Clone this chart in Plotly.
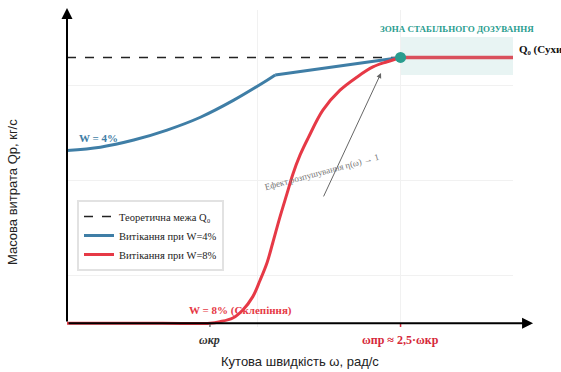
import plotly.graph_objects as go

# Characteristic angular speeds and theoretical flow limit (model units)
OMEGA_CR = 3.0
OMEGA_PR = 7.0
Q_T = 2.8
X_MAX = 9.36
Y_MIN = -0.04
Y_MAX = 3.3

# Outflow at W = 4 %: smooth rise, then a linear approach to Q_T
w4_x = [0.0, 0.7, 1.4, 2.1, 2.8, 3.5, 4.2, 4.37]
w4_y = [1.82, 1.855, 1.93, 2.035, 2.17, 2.35, 2.56, 2.615]
w4_tail_x = [4.37, 7.0]
w4_tail_y = [2.615, 2.8]

# Outflow at W = 8 %: arching (zero flow) below omega_cr, then steep rise
w8_x = [0.0, 2.0, 3.0, 3.21, 3.48, 3.69, 3.90, 4.05, 4.20, 4.32, 4.47, 4.62,
        4.74, 4.89, 5.06, 5.37, 5.73, 6.09, 6.42, 6.72, 7.0]
w8_y = [0.0, 0.0, 0.0, 0.016, 0.055, 0.14, 0.28, 0.45, 0.64, 0.85, 1.12, 1.37,
        1.57, 1.77, 1.95, 2.245, 2.455, 2.595, 2.70, 2.755, 2.8]

# Stable dosing zone
zone_x = [7.0, X_MAX]
zone_y = [2.615, 3.015]

BLUE = "#3f7ea6"
RED = "#e63946"
TEAL = "#2a9d8f"
SERIF = "Liberation Serif, Times New Roman, serif"
SANS = "Liberation Sans, Arial, sans-serif"

PLOT_W = 446  # plot area width in px
PLOT_H = 317  # plot area height in px
PX_X = PLOT_W / X_MAX
PX_Y = PLOT_H / (Y_MAX - Y_MIN)

fig = go.Figure()

fig.add_shape(type="rect", x0=zone_x[0], x1=zone_x[1], y0=zone_y[0], y1=zone_y[1],
              fillcolor="rgba(42,157,143,0.11)", line_width=0, layer="below")

fig.add_trace(go.Scatter(x=[0.0, OMEGA_PR], y=[Q_T, Q_T], mode="lines",
                         line=dict(color="#222222", width=1.6, dash="dash"),
                         name="Теоретична межа Q₀"))
fig.add_trace(go.Scatter(x=w4_x, y=w4_y, mode="lines",
                         line=dict(color=BLUE, width=3, shape="spline", smoothing=1.0),
                         legendgroup="w4", name="Витікання при W=4%"))
fig.add_trace(go.Scatter(x=w4_tail_x, y=w4_tail_y, mode="lines",
                         line=dict(color=BLUE, width=3), legendgroup="w4",
                         showlegend=False))
fig.add_trace(go.Scatter(x=w8_x, y=w8_y, mode="lines",
                         line=dict(color=RED, width=3, shape="spline", smoothing=1.0),
                         legendgroup="w8", name="Витікання при W=8%"))
fig.add_trace(go.Scatter(x=[OMEGA_PR, X_MAX], y=[Q_T, Q_T], mode="lines",
                         line=dict(color="#d9505c", width=3.5), legendgroup="w8",
                         showlegend=False))
fig.add_trace(go.Scatter(x=[OMEGA_PR], y=[Q_T], mode="markers",
                         marker=dict(color=TEAL, size=11), showlegend=False))

ann = []
# Axis arrows
ann.append(dict(xref="paper", yref="y", x=1.045, y=0, ax=-466, ay=0,
                showarrow=True, arrowhead=2, arrowsize=1.1, arrowwidth=2,
                arrowcolor="black", text=""))
ann.append(dict(xref="paper", yref="paper", x=0, y=1.006, ax=0, ay=315,
                showarrow=True, arrowhead=2, arrowsize=1.1, arrowwidth=2,
                arrowcolor="black", text=""))
# Axis titles
ann.append(dict(xref="paper", yref="paper", x=(300 - 67) / PLOT_W, y=-34 / PLOT_H,
                yanchor="middle", showarrow=False, text="Кутова швидкість ω, рад/с",
                font=dict(family=SANS, size=13, color="#222")))
ann.append(dict(xref="paper", yref="paper", x=-55 / PLOT_W, y=(327 - 192) / PLOT_H,
                xanchor="center", textangle=-90, showarrow=False,
                text="Масова витрата Qp, кг/с",
                font=dict(family=SANS, size=13, color="#222")))
# Characteristic speed labels
ann.append(dict(xref="x", yref="paper", x=OMEGA_CR, y=-13 / PLOT_H, yanchor="middle",
                showarrow=False, text="<b><i>ωкр</i></b>",
                font=dict(family=SERIF, size=12, color="#333")))
ann.append(dict(xref="x", yref="paper", x=OMEGA_PR, y=-13 / PLOT_H, yanchor="middle",
                showarrow=False, text="<b>ωпр ≈ 2,5·ωкр</b>",
                font=dict(family=SERIF, size=12, color="#d62839")))
# Series labels
ann.append(dict(xref="x", yref="y", x=0.2, y=(323 - 138) / PX_Y, xanchor="left",
                showarrow=False, text="<b>W = 4%</b>",
                font=dict(family=SERIF, size=11, color=BLUE)))
ann.append(dict(xref="x", yref="y", x=(240 - 67) / PX_X, y=(323 - 310) / PX_Y,
                showarrow=False, text="<b>W = 8% (Склепіння)</b>",
                font=dict(family=SERIF, size=11, color=RED)))
# Zone labels
ann.append(dict(xref="x", yref="y", x=(zone_x[0] + zone_x[1]) / 2, y=3.1,
                showarrow=False, text="<b>ЗОНА СТАБІЛЬНОГО ДОЗУВАННЯ</b>",
                font=dict(family=SERIF, size=9, color=TEAL)))
ann.append(dict(xref="paper", yref="y", x=1.0 + 4 / PLOT_W, y=2.88, xanchor="left",
                showarrow=False, text="<b>Q₀ (Сухий)</b>",
                font=dict(family=SERIF, size=11, color="#111")))
# Loosening effect arrow and label
ann.append(dict(xref="x", yref="y", x=6.59, y=2.635, axref="x", ayref="y",
                ax=5.37, ay=1.32, showarrow=True, arrowhead=2, arrowsize=1,
                arrowwidth=1, arrowcolor="#666", text=""))
ann.append(dict(xref="x", yref="y", x=(322 - 67) / PX_X, y=(323 - 172) / PX_Y,
                showarrow=False, textangle=-15, text="Ефект розпушування η(ω) → 1",
                font=dict(family=SERIF, size=9, color="#777")))

# Short tick marks under the characteristic speeds
fig.add_shape(type="line", xref="x", yref="y", x0=OMEGA_CR, x1=OMEGA_CR,
              y0=0, y1=-8 / PX_Y, line=dict(color="#777", width=1.5))
fig.add_shape(type="line", xref="x", yref="y", x0=OMEGA_PR, x1=OMEGA_PR,
              y0=0, y1=-10 / PX_Y, line=dict(color="#d62839", width=1.5))

fig.update_layout(
    width=561, height=372,
    margin=dict(l=67, r=48, t=10, b=45),
    paper_bgcolor="white", plot_bgcolor="white",
    annotations=ann,
    legend=dict(x=10 / PLOT_W, y=(327 - 200) / PLOT_H, xanchor="left", yanchor="top",
                bgcolor="white", bordercolor="#e2e2e2", borderwidth=2,
                font=dict(family=SERIF, size=10.5, color="#222"),
                tracegroupgap=0, itemwidth=30),
    xaxis=dict(range=[0, X_MAX], tickvals=[4, 7], showticklabels=False,
               showgrid=True, gridcolor="#f1f1f1", zeroline=False, ticks="",
               showline=False, fixedrange=True),
    yaxis=dict(range=[Y_MIN, Y_MAX], tickvals=[0.5, 1.5, 2.5], showticklabels=False,
               showgrid=True, gridcolor="#f1f1f1", zeroline=False, ticks="",
               showline=False, fixedrange=True),
    showlegend=True,
)

fig.write_html("out.html", config={"displayModeBar": False})
